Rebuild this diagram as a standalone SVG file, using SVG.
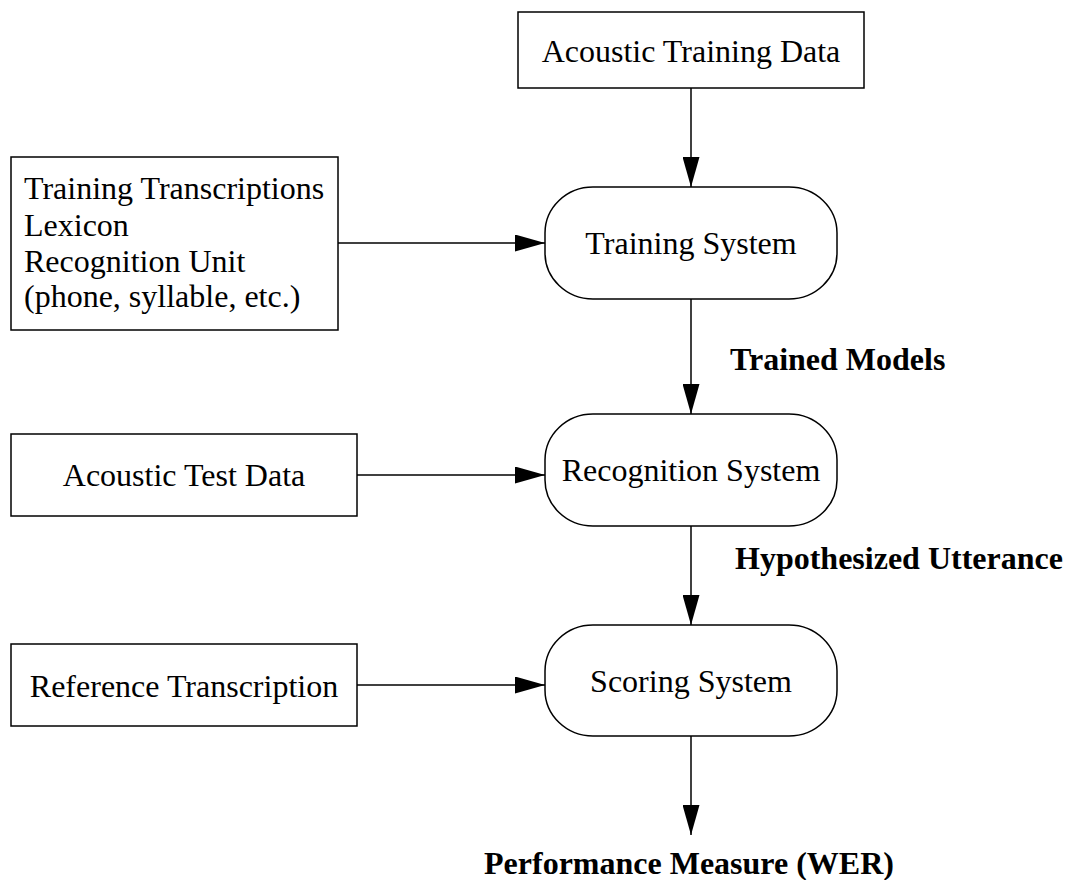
<svg xmlns="http://www.w3.org/2000/svg" width="1067" height="880" viewBox="0 0 1067 880">
<style>
.box{fill:#fff;stroke:#000;stroke-width:1.5}
.t{font-family:"Liberation Serif","Times New Roman",serif;font-size:32px;fill:#000}
.c{text-anchor:middle}
.b{font-weight:bold}
.e{stroke:#000;stroke-width:1.5;fill:none}
</style>
<defs>
<marker id="ah" viewBox="0 0 30 17" refX="30" refY="8.5" markerWidth="30" markerHeight="17" markerUnits="userSpaceOnUse" orient="auto">
<path d="M0,0 L30,8.5 L0,17 Z" fill="#000"/>
</marker>
</defs>
<rect width="1067" height="880" fill="#fff"/>
<g id="acoustic-training-data">
<rect class="box" x="518" y="12" width="346" height="76"/>
<text class="t c" x="691" y="62">Acoustic Training Data</text>
</g>
<g id="training-inputs">
<rect class="box" x="11" y="157" width="327" height="173"/>
<text class="t" x="24" y="199">Training Transcriptions</text>
<text class="t" x="24" y="236">Lexicon</text>
<text class="t" x="24" y="272">Recognition Unit</text>
<text class="t" x="24" y="307">(phone, syllable, etc.)</text>
</g>
<g id="training-system">
<rect class="box" x="545" y="187" width="292" height="112" rx="48" ry="46"/>
<text class="t c" x="691" y="254">Training System</text>
</g>
<g id="acoustic-test-data">
<rect class="box" x="11" y="434" width="346" height="82"/>
<text class="t c" x="184" y="486">Acoustic Test Data</text>
</g>
<g id="recognition-system">
<rect class="box" x="545" y="414" width="292" height="112" rx="48" ry="46"/>
<text class="t c" x="691" y="481">Recognition System</text>
</g>
<g id="reference-transcription">
<rect class="box" x="11" y="644" width="346" height="82"/>
<text class="t c" x="184" y="697">Reference Transcription</text>
</g>
<g id="scoring-system">
<rect class="box" x="545" y="625" width="292" height="111" rx="48" ry="46"/>
<text class="t c" x="691" y="692">Scoring System</text>
</g>
<g id="connectors">
<line class="e" x1="691" y1="88" x2="691" y2="187" marker-end="url(#ah)"/>
<line class="e" x1="338" y1="243" x2="545" y2="243" marker-end="url(#ah)"/>
<line class="e" x1="691" y1="299" x2="691" y2="414" marker-end="url(#ah)"/>
<line class="e" x1="357" y1="475" x2="545" y2="475" marker-end="url(#ah)"/>
<line class="e" x1="691" y1="526" x2="691" y2="625" marker-end="url(#ah)"/>
<line class="e" x1="357" y1="685" x2="545" y2="685" marker-end="url(#ah)"/>
<line class="e" x1="691" y1="736" x2="691" y2="835" marker-end="url(#ah)"/>
<text class="t b" x="730" y="370">Trained Models</text>
<text class="t b" x="735" y="569">Hypothesized Utterance</text>
<text class="t b c" x="689" y="874">Performance Measure (WER)</text>
</g>
</svg>
